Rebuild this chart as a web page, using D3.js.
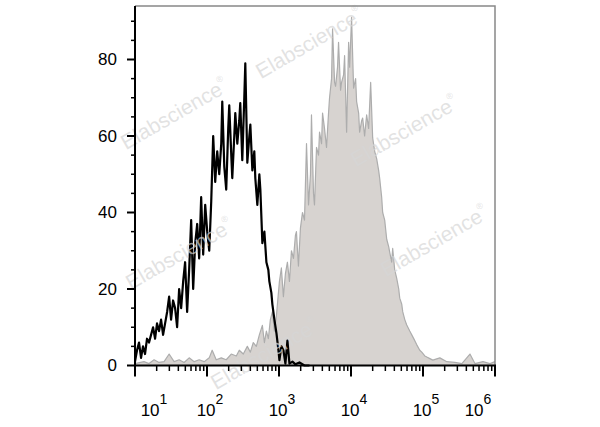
<!DOCTYPE html>
<html>
<head>
<meta charset="utf-8">
<script src="https://cdn.jsdelivr.net/npm/d3@7"></script>
<style>
  html, body { margin: 0; padding: 0; background: #fff; }
  svg { display: block; font-family: "Liberation Sans", Arial, sans-serif; }
</style>
</head>
<body>
<svg id="chart" width="600" height="427"></svg>
<script>
// ---- data (x given as log10 of fluorescence intensity) ----
const isotypeLog = [1.000,1.028,1.056,1.084,1.111,1.139,1.167,1.195,1.223,1.251,1.279,1.306,1.334,1.362,1.390,1.418,1.446,1.474,1.501,1.529,1.557,1.585,1.613,1.641,1.669,1.696,1.724,1.752,1.780,1.808,1.836,1.864,1.891,1.919,1.947,1.975,2.003,2.031,2.059,2.086,2.114,2.142,2.170,2.198,2.212,2.240,2.267,2.295,2.309,2.337,2.351,2.379,2.393,2.421,2.448,2.462,2.490,2.518,2.532,2.560,2.588,2.602,2.630,2.657,2.671,2.699,2.727,2.741,2.769,2.797,2.825,2.852,2.866,2.894,2.908,2.936,2.964,2.992,3.006,3.033,3.061,3.089,3.117,3.145,3.187,3.228,3.284,3.354,3.423];
const isotypeCount = [1,4,6,2,5,3,7,6,8,10,7,11,9,12,8,11,14,18,12,17,15,10,20,15,22,27,14,25,38,20,32,37,28,44,29,42,35,30,43,60,48,56,50,58,69,52,46,62,68,55,49,60,66,58,64,68.6,53.7,70,79,53,60,63,51,56,49,42,50,46,32,35,27,25,22,19,16,12,8.5,4,1.4,5,4,0.5,6.5,0.5,1,0.3,0.8,0,0];

const stainedLog = [1.000,1.125,1.195,1.265,1.334,1.404,1.474,1.543,1.613,1.682,1.752,1.822,1.891,1.961,2.031,2.072,2.128,2.198,2.267,2.337,2.407,2.448,2.504,2.560,2.602,2.643,2.685,2.727,
  2.769,2.797,2.825,2.852,2.880,2.908,2.936,2.964,2.978,3.006,3.033,3.061,3.089,3.117,3.145,3.173,3.201,3.228,3.242,3.270,3.298,3.326,3.354,3.382,3.410,3.437,3.451,3.479,3.493,3.521,3.549,3.563,3.591,3.605,3.632,3.660,3.688,3.702,3.730,3.744,3.772,3.786,3.813,3.827,3.855,3.869,3.897,3.911,3.939,3.967,3.981,4.008,4.036,4.064,4.078,4.106,4.120,4.148,4.162,4.189,4.217,4.245,4.273,4.301,4.329,4.357,4.384,4.398,4.426,4.440,4.468,4.496,4.524,4.538,4.565,4.579,4.607,4.635,4.663,4.677,4.705,4.719,4.747,4.774,4.816,4.844,4.886,4.914,4.955,4.983,5.025,5.053,5.095,5.136,
  5.234,5.331,5.443,5.540,5.652,5.721,5.833,5.930,6.000];
const stainedCount = [0.5,1,0.5,1.5,0.8,1,3,1,1.5,0.8,2,1,1.5,1,2,4,1.5,2,1.5,3,2.5,4,3,5,3.5,6,5,8,
  10.5,6,9,7,12,14,9,13,16,22,25.5,18,24,27,22,30,28,34,35,26,36,40,38,58,42,50,65.5,45,42,57,55,61,58,66,62,57,66,70,75,88,74,73,78,84.5,72,74,76,81,61,84.5,78,91,72.5,75,69,66,61,64,64.7,60,65.5,62,74,59.5,56,54,51,49,44,40,38,33,31,29.6,27,30.6,25,22.8,20,17.6,16,14,12,10.6,9,8,6.5,5.4,4,3.5,2.5,2.2,1.8,1.4,
  2,1,0.8,0.5,3,0.5,1,0.5,1];

const xTickExps = [1,2,3,4,5,6];
const yTicks = [0,20,40,60,80];
const yMinorTicks = [5,10,15,25,30,35,45,50,55,65,70,75,85,90];
const watermarkText = "Elabscience";
const watermarkPos = [[310,44],[175,115],[405,132],[180,255],[435,242],[265,355]];

// ---- layout ----
const svg = d3.select("#chart");
const mLeft = 135, mRight = 495, mTop = 6, mBottom = 365.5;

const x = d3.scaleLog().domain([10, 1e6]).range([mLeft, mRight]);
const y = d3.scaleLinear().domain([0, 80]).range([mBottom, 59.5]);

const toPts = (lx, cy) => lx.map((e, i) => [Math.pow(10, e), cy[i]]);

// stained (filled gray) histogram
const area = d3.area()
  .x(d => x(d[0])).y0(y(0)).y1(d => y(d[1]));
const line = d3.line().x(d => x(d[0])).y(d => y(d[1]));

const stained = toPts(stainedLog, stainedCount);
svg.append("path").datum(stained)
  .attr("d", area).attr("fill", "#d7d3d0");
svg.append("path").datum(stained)
  .attr("d", line).attr("fill", "none")
  .attr("stroke", "#adadad").attr("stroke-width", 1.2).attr("stroke-linejoin", "round");

// isotype (black line)
svg.append("path").datum(toPts(isotypeLog, isotypeCount))
  .attr("d", line).attr("fill", "none")
  .attr("stroke", "#000").attr("stroke-width", 2.2).attr("stroke-linejoin", "round");

// watermarks
watermarkPos.forEach(p => {
  const t = svg.append("text")
    .attr("transform", `translate(${p[0]},${p[1]}) rotate(-30)`)
    .attr("text-anchor", "middle")
    .attr("dominant-baseline", "middle")
    .attr("font-size", 21)
    .attr("fill", "#d6d6d6").attr("fill-opacity", 0.7);
  t.append("tspan").text(watermarkText);
  t.append("tspan").attr("font-size", 9).attr("dy", -8).text("®");
});

// frame: top & right gray
svg.append("path")
  .attr("d", `M${mLeft},${mTop}H${mRight}V${mBottom}`)
  .attr("fill", "none").attr("stroke", "#888").attr("stroke-width", 1.5);

// y axis
const yAxis = svg.append("g").attr("transform", `translate(${mLeft},0)`);
yAxis.append("line").attr("y1", mTop).attr("y2", mBottom + 1)
  .attr("stroke", "#000").attr("stroke-width", 2);
yAxis.selectAll(".ymaj").data(yTicks).join("line")
  .attr("x1", -8).attr("x2", 0).attr("y1", d => y(d)).attr("y2", d => y(d))
  .attr("stroke", "#000").attr("stroke-width", 2);
yAxis.selectAll(".ymin").data(yMinorTicks).join("line")
  .attr("x1", -4).attr("x2", 0).attr("y1", d => y(d)).attr("y2", d => y(d))
  .attr("stroke", "#000").attr("stroke-width", 1.5);
yAxis.selectAll(".ylab").data(yTicks).join("text")
  .attr("x", -18).attr("y", d => y(d)).attr("dy", "0.35em")
  .attr("text-anchor", "end").attr("font-size", 17).attr("fill", "#000")
  .text(d => d);

// x axis
const xAxis = svg.append("g").attr("transform", `translate(0,${mBottom})`);
xAxis.append("line").attr("x1", mLeft - 1).attr("x2", mRight + 1)
  .attr("stroke", "#000").attr("stroke-width", 2);
const minor = [];
for (let e = 1; e < 6; e++) for (let m = 2; m <= 9; m++) minor.push(m * Math.pow(10, e));
xAxis.selectAll(".xmin").data(minor).join("line")
  .attr("x1", d => x(d)).attr("x2", d => x(d)).attr("y1", 0).attr("y2", 5.5)
  .attr("stroke", "#000").attr("stroke-width", 1.5);
xAxis.selectAll(".xmaj").data(xTickExps).join("line")
  .attr("x1", d => x(Math.pow(10, d))).attr("x2", d => x(Math.pow(10, d)))
  .attr("y1", 0).attr("y2", 11)
  .attr("stroke", "#000").attr("stroke-width", 2);
const labs = xAxis.selectAll(".xlab").data(xTickExps).join("text")
  .attr("transform", d => {
    const px = Math.max(154, Math.min(478, x(Math.pow(10, d)) + 3));
    return `translate(${px},50)`;
  })
  .attr("text-anchor", "middle").attr("fill", "#000");
labs.append("tspan").attr("font-size", 17).text("10");
labs.append("tspan").attr("font-size", 14).attr("dy", -12).text(d => d);
</script>
</body>
</html>
